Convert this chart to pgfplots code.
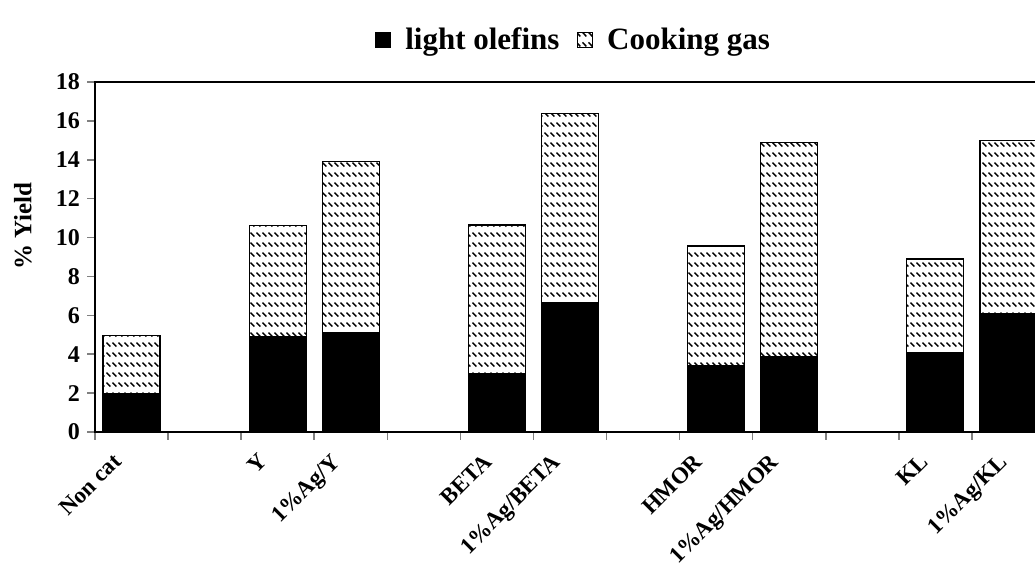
\documentclass[border=0pt]{standalone}
\usepackage{pgfplots}
\pgfplotsset{compat=1.18}
\usepackage{pgfplotstable}
\usepackage{fontspec}
\setmainfont{Liberation Serif}
\usetikzlibrary{patterns}

% rows of short "\" strokes, like the Excel hatch
\pgfdeclarepatternformonly{gasrows}{\pgfqpoint{0pt}{0pt}}{\pgfqpoint{2.8pt}{4.85pt}}{\pgfqpoint{2.8pt}{4.85pt}}{%
  \pgfsetlinewidth{0.75pt}%
  \pgfpathmoveto{\pgfqpoint{0.3pt}{4.3pt}}%
  \pgfpathlineto{\pgfqpoint{2.3pt}{2.3pt}}%
  \pgfusepath{stroke}}

\pgfplotstableread{
x olefins gas
0  1.95 3.00
2  4.88 5.74
3  5.10 8.80
5  2.98 7.67
6  6.67 9.71
8  3.40 6.16
9  3.86 11.04
11 4.08 4.82
12 6.10 8.88
}\yielddata

\newcommand\lbl{\bfseries\fontsize{11.5}{12}\selectfont}

\begin{document}
\begin{tikzpicture}
\useasboundingbox (0,0) rectangle (517.5pt,282.5pt);
\clip (0,0) rectangle (517.5pt,282.5pt);
\begin{axis}[
    at={(47.5pt,66.5pt)}, anchor=south west,
    scale only axis,
    width=475pt, height=175pt,
    axis line style={line width=1pt},
    ybar stacked,
    bar width=0.78,
    xmin=-0.5, xmax=12.5,
    ymin=0, ymax=18,
    ytick={0,2,...,18},
    xtick pos=bottom, ytick pos=left,
    tick align=outside,
    major tick length=4pt,
    xtick={-0.27,1.73,2.72,4.8,5.73,7.68,8.72,10.77,11.85},
    xticklabels={Non cat,Y,1\%Ag/Y,BETA,1\%Ag/BETA,HMOR,1\%Ag/HMOR,KL,1\%Ag/KL},
    major x tick style={draw=none},
    minor xtick={-0.5,0.5,...,12.5},
    minor tick length=4pt,
    minor x tick style={line width=0.8pt},
    ytick style={line width=0.8pt},
    /pgf/number format/assume math mode=true,
    yticklabel style={font=\bfseries\fontsize{12}{13}\selectfont},
    xticklabel style={font=\lbl, rotate=45, anchor=north east, inner sep=0pt},
    xticklabel shift=6pt,
    ylabel={\% Yield},
    ylabel style={font=\bfseries\fontsize{12.5}{13}\selectfont, at={(axis description cs:-0.0758,0.589)}, anchor=center},
    legend style={draw=none, at={(axis description cs:0.505,1.12)}, anchor=center,
        legend columns=-1, font=\bfseries\fontsize{15.5}{16}\selectfont,
        /tikz/every odd column/.append style={column sep=5pt},
        /tikz/every even column/.append style={column sep=7pt}},
    legend image code/.code={\draw[#1,draw=black,line width=0.5pt] (0pt,-3.7pt) rectangle (7.4pt,3.7pt);},
]
\addplot[fill=black, draw=black, line width=0.6pt] table[x=x,y=olefins] {\yielddata};
\addplot[pattern=gasrows, draw=black, line width=0.6pt] table[x=x,y=gas] {\yielddata};
\addlegendentry{light olefins}
\addlegendentry{Cooking gas}
\end{axis}
\end{tikzpicture}
\end{document}
